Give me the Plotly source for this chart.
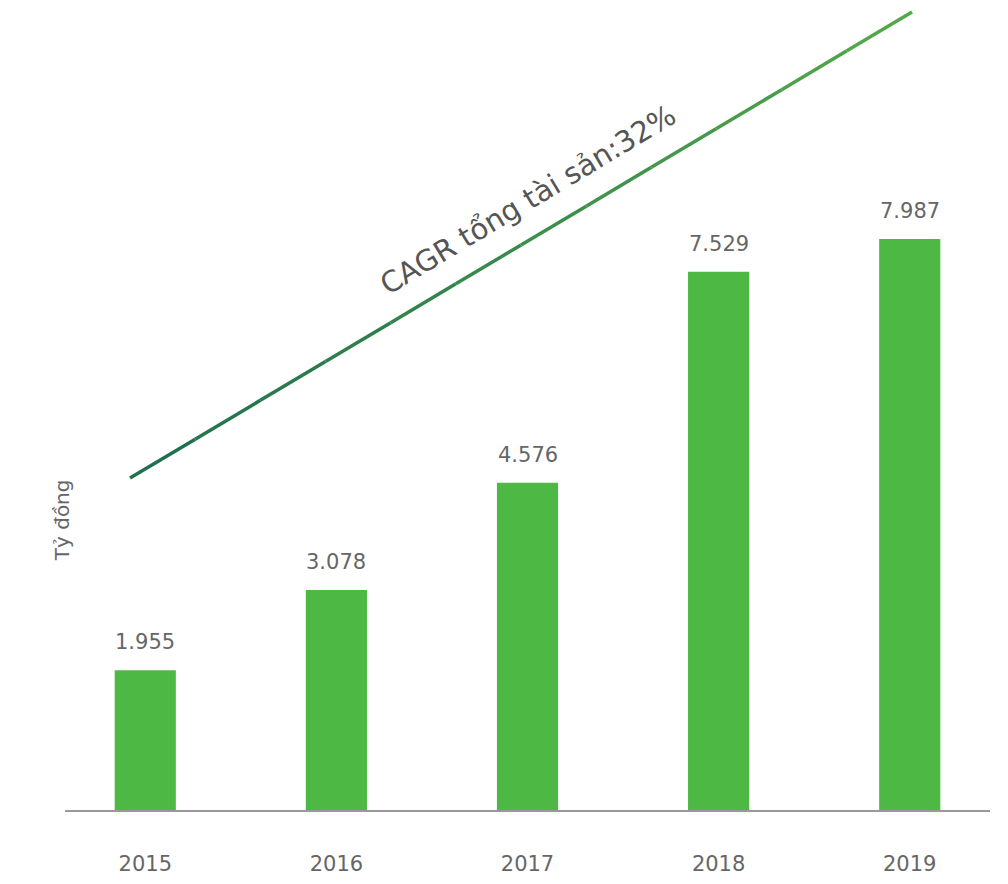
import plotly.graph_objects as go

years = ["2015", "2016", "2017", "2018", "2019"]
values = [1955, 3078, 4576, 7529, 7987]
labels = ["1.955", "3.078", "4.576", "7.529", "7.987"]
cagr_text = "CAGR tổng tài sản:32%"
y_title = "Tỷ đồng"

FONT = "DejaVu Sans"
GRAY = "#666666"

fig = go.Figure()
fig.add_trace(go.Bar(x=years, y=values, marker=dict(color="#4db843", line=dict(width=0)),
                     hoverinfo="skip"))

for i, (v, lab) in enumerate(zip(values, labels)):
    fig.add_annotation(x=i, y=v, text=lab, showarrow=False, yanchor="bottom",
                       yshift=14, font=dict(family=FONT, size=21, color=GRAY))

# CAGR trend line (decorative) with gradient
x0, y0, x1, y1 = 0.0703, 0.415, 0.9157, 0.9975
c0 = (0x1f, 0x6e, 0x4e)
c1 = (0x55, 0xaa, 0x4a)
n = 12
for i in range(n):
    t0, t1 = i / n, (i + 1) / n
    tm = (t0 + t1) / 2
    col = "rgb(%d,%d,%d)" % tuple(int(a + (b - a) * tm) for a, b in zip(c0, c1))
    fig.add_shape(type="line", xref="paper", yref="paper",
                  x0=x0 + (x1 - x0) * t0, y0=y0 + (y1 - y0) * t0,
                  x1=x0 + (x1 - x0) * t1, y1=y0 + (y1 - y0) * t1,
                  line=dict(color=col, width=3.5))

fig.add_annotation(xref="paper", yref="paper", x=0.50, y=0.762, text=cagr_text,
                   showarrow=False, textangle=-31, xanchor="center", yanchor="middle",
                   font=dict(family=FONT, size=29, color="#555555"))

fig.add_annotation(xref="paper", yref="paper", x=-0.003, y=0.3625, text=y_title,
                   showarrow=False, textangle=-90, xanchor="center", yanchor="middle",
                   font=dict(family=FONT, size=20, color=GRAY))

fig.update_layout(
    width=1000, height=876,
    margin=dict(l=57, r=18, t=2, b=74),
    plot_bgcolor="white", paper_bgcolor="white",
    bargap=0.68, showlegend=False,
    xaxis=dict(type="category", range=[-0.42, 4.42], showgrid=False, showline=True,
               linecolor="#999999", linewidth=2, ticks="",
               tickfont=dict(family=FONT, size=21, color=GRAY), ticklabelstandoff=34),
    yaxis=dict(range=[0, 11190], showgrid=False, showticklabels=False, zeroline=False,
               showline=False),
)
fig.write_html("out.html")
